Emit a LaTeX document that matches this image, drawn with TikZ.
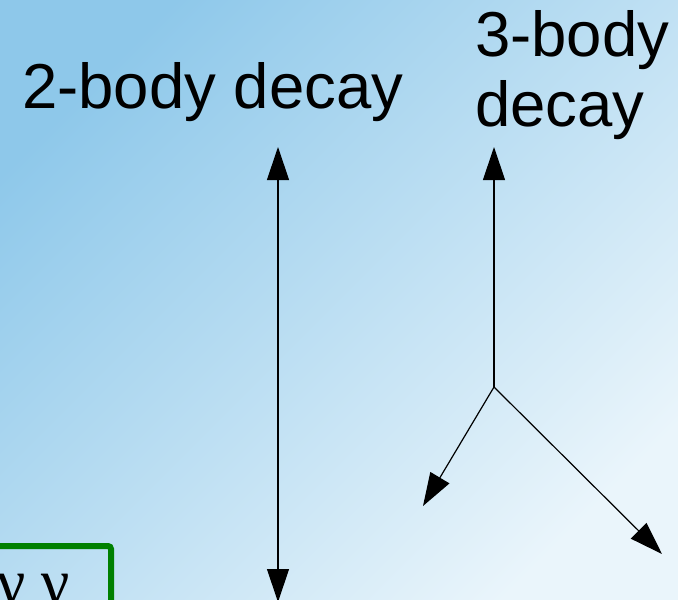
\documentclass[tikz,border=0pt]{standalone}
\usepackage{fontspec}
\setmainfont{Liberation Sans}
\newfontfamily\serifgk{Liberation Serif}
\usetikzlibrary{arrows.meta}
\definecolor{bgA}{RGB}{142,200,234}
\definecolor{bgB}{RGB}{234,245,251}
\definecolor{boxgreen}{RGB}{0,128,0}
\tikzset{
  lbl/.style={font=\fontsize{63.5}{70}\selectfont, inner sep=0pt, align=left, anchor=base west},
  decayarrow/.style={line width=1.2pt, -{Triangle[length=33pt,width=22pt]}},
}
\begin{document}
\begin{tikzpicture}[x=1pt,y=-1pt]
\useasboundingbox (0,0) rectangle (678,600);
\begin{scope}
\clip (0,0) rectangle (678,600);
\shade[left color=bgA, right color=bgB, shading angle=45] (-10,-10) rectangle (688,610);
% green box
\draw[boxgreen, line width=6pt, rounded corners=3pt] (-20,546) -- (111,546) -- (111,640);
\node[font=\serifgk\fontsize{64}{64}\selectfont, anchor=base west, inner sep=0pt] (gg) at (-3,603) {γ\hspace{16pt}γ};
% labels
\node[lbl] (two) at (22,108) {2-body decay};
\node[lbl, anchor=north west] (three) at (475,10) {3-body\\decay};
% 2-body
\coordinate (c2) at (278,375);
\coordinate (t2up) at (278,147);
\coordinate (t2dn) at (278,602);
\draw[decayarrow] (c2) -- (t2up);
\draw[decayarrow] (c2) -- (t2dn);
% 3-body
\coordinate (v) at (494,387);
\coordinate (t3up) at (494,147);
\coordinate (t3l) at (423,506);
\coordinate (t3r) at (662,554);
\draw[decayarrow] (v) -- (t3up);
\draw[decayarrow] (v) -- (t3l);
\draw[decayarrow] (v) -- (t3r);
\end{scope}
\end{tikzpicture}
\end{document}
